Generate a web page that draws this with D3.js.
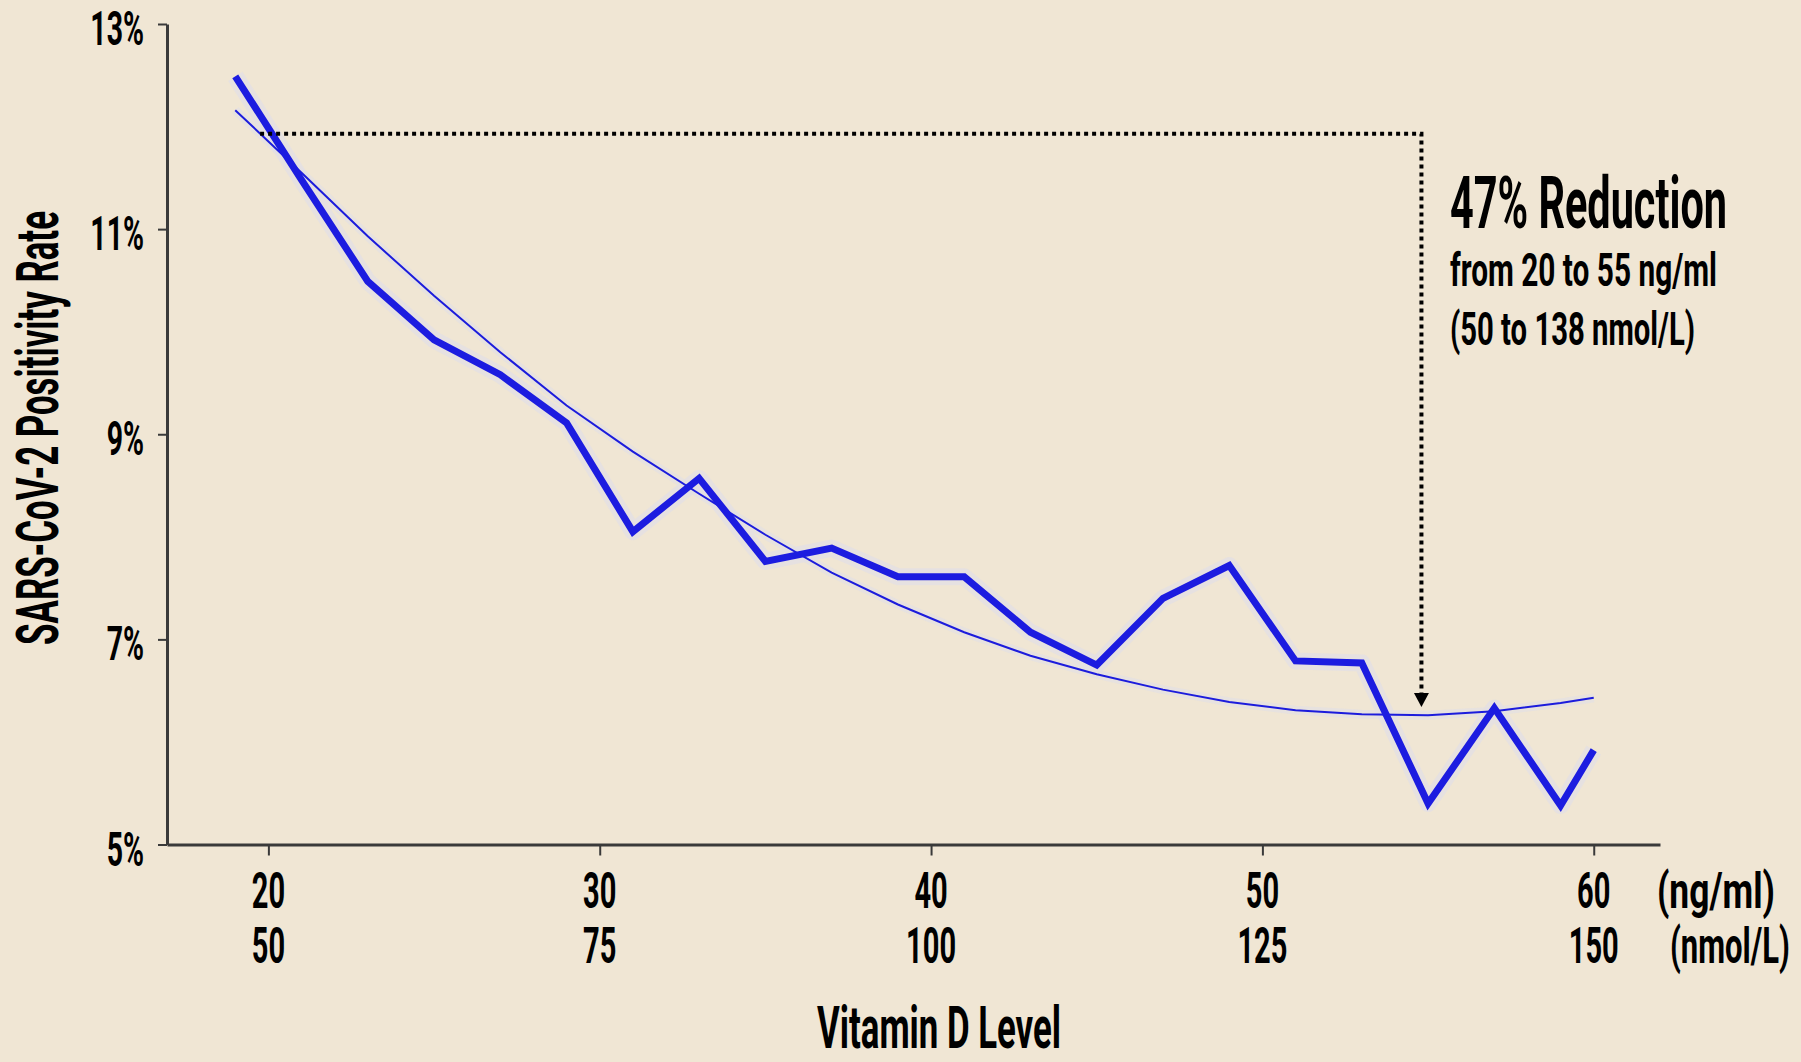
<!DOCTYPE html>
<html>
<head>
<meta charset="utf-8">
<script src="https://cdn.jsdelivr.net/npm/d3@7"></script>
<style>
  html, body { margin: 0; padding: 0; background: #f0e6d4; }
  .chart text { font-family: "Roboto", "Liberation Sans", sans-serif; font-weight: 700; fill: #000; }
</style>
</head>
<body>
<div class="chart"></div>
<script>
// vitamin D level (ng/ml) for each point
const vitD = [19, 21, 23, 25, 27, 29, 31, 33, 35, 37, 39, 41, 43, 45, 47, 49, 51, 53, 55, 57, 59, 60];
// observed SARS-CoV-2 positivity (%)
const positivity = [12.49, 11.48, 10.49, 9.92, 9.58, 9.11, 8.05, 8.57, 7.76, 7.89, 7.61, 7.61, 7.07, 6.75, 7.40, 7.72, 6.79, 6.77, 5.40, 6.33, 5.38, 5.92];
// fitted trend (%)
const fitted = [12.16, 11.55, 10.93, 10.35, 9.80, 9.28, 8.83, 8.42, 8.02, 7.65, 7.34, 7.07, 6.84, 6.66, 6.51, 6.39, 6.31, 6.27, 6.26, 6.30, 6.38, 6.43];

const yTicks = [5, 7, 9, 11, 13];
const xTicks = [20, 30, 40, 50, 60];
const xTicksNmol = ["50", "75", "100", "125", "150"];

// dotted annotation: corner (x,y) then arrow tip
const annoX = [19.75, 54.8];
const annoY = [11.93, 6.34];

const totalWidth = 1801, totalHeight = 1062;

const svg = d3.select(".chart").append("svg")
  .attr("width", totalWidth)
  .attr("height", totalHeight);

svg.append("rect").attr("width", totalWidth).attr("height", totalHeight).attr("fill", "#f0e6d4");

//the font is a condensed one, so squeeze text horizontally
const probe = svg.append("text").attr("font-size", 60).text("Vitamin D Level");
const sx = 244 / probe.node().getComputedTextLength();
probe.remove();

function addText(x, y, str, size, anchor, rot, width) {
  const t = svg.append("text")
    .attr("transform", `translate(${x},${y})${rot ? " rotate(-90)" : ""} scale(${sx},1)`)
    .attr("font-size", size)
    .attr("text-anchor", anchor || "middle")
    .text(str);
  if (width) t.attr("textLength", width / sx).attr("lengthAdjust", "spacingAndGlyphs");
  return t;
}

//scales
const xScale = d3.scaleLinear().domain([16.94, 62]).range([167, 1660]);
const yScale = d3.scaleLinear().domain([5, 13]).range([844.5, 24]);

//y axis
const yAxis = d3.axisLeft(yScale).tickValues(yTicks).tickSize(9).tickSizeOuter(0).tickFormat("");
svg.append("g").attr("class", "y-axis").attr("transform", "translate(167,0)").call(yAxis);

//x axis
const xAxis = d3.axisBottom(xScale).tickValues(xTicks).tickSize(11).tickSizeOuter(0).tickFormat("");
svg.append("g").attr("class", "x-axis").attr("transform", "translate(0,844.5)").call(xAxis);

svg.selectAll(".y-axis path, .x-axis path, .y-axis line, .x-axis line")
  .attr("stroke", "#3a3a3a").attr("stroke-width", 3);
svg.selectAll(".y-axis line, .x-axis line").attr("stroke-width", 2);

//tick labels
yTicks.forEach((t) => addText(144, yScale(t) + 21, t + "%", 49, "end"));
xTicks.forEach((t, i) => {
  addText(xScale(t), 908, t, 50);
  addText(xScale(t), 963, xTicksNmol[i], 50);
});
addText(1657, 908, "(ng/ml)", 50, "start", false, 118);
addText(1670, 963, "(nmol/L)", 50, "start", false, 120);

//axis titles
addText(939, 1048, "Vitamin D Level", 60);
addText(58, 428, "SARS-CoV-2 Positivity Rate", 60, "middle", true);

//lines
const pts = vitD.map((d, i) => ({ x: d, obs: positivity[i], fit: fitted[i] }));
const obsLine = d3.line().x((d) => xScale(d.x)).y((d) => yScale(d.obs));
const fitLine = d3.line().x((d) => xScale(d.x)).y((d) => yScale(d.fit));

svg.append("path").attr("d", fitLine(pts)).attr("fill", "none")
  .attr("stroke", "#e3e0e4").attr("stroke-width", 9).attr("opacity", 0.7);
svg.append("path").attr("d", obsLine(pts)).attr("fill", "none")
  .attr("stroke", "#e3e0e4").attr("stroke-width", 17).attr("stroke-linejoin", "round").attr("opacity", 0.8);
svg.append("path").attr("d", fitLine(pts)).attr("fill", "none")
  .attr("stroke", "#1c1cdc").attr("stroke-width", 2);
svg.append("path").attr("d", obsLine(pts)).attr("fill", "none")
  .attr("stroke", "#1c1ce0").attr("stroke-width", 7).attr("stroke-linejoin", "miter");

//dotted annotation with arrow
const cx = xScale(annoX[1]), cy = yScale(annoY[0]), tipY = yScale(annoY[1]);
svg.append("path")
  .attr("d", `M${xScale(annoX[0])},${cy}H${cx}V${tipY - 13}`)
  .attr("fill", "none").attr("stroke", "#000").attr("stroke-width", 4)
  .attr("stroke-dasharray", "4,4");
svg.append("path")
  .attr("d", `M${cx - 7.5},${tipY - 14}L${cx + 7.5},${tipY - 14}L${cx},${tipY}Z`)
  .attr("fill", "#000");

//annotation text
addText(1450, 228, "47% Reduction", 72, "start", false, 277);
addText(1450, 286, "from 20 to 55 ng/ml", 46, "start", false, 267);
addText(1450, 345, "(50 to 138 nmol/L)", 46, "start", false, 245);
</script>
</body>
</html>
